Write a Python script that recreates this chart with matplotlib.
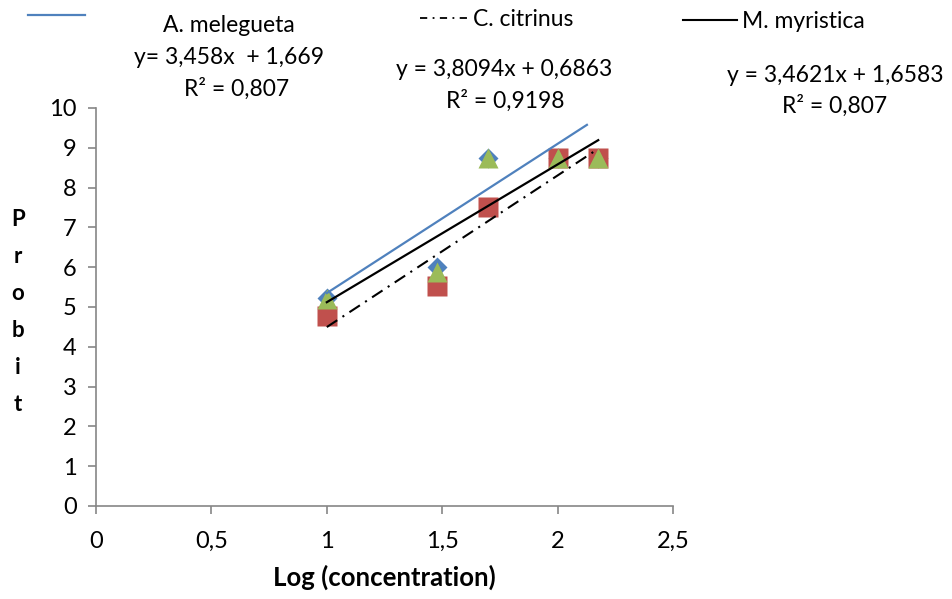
import matplotlib
matplotlib.use("Agg")
import matplotlib.pyplot as plt
from matplotlib.lines import Line2D
import numpy as np

plt.rcParams['font.family'] = ['Lato', 'DejaVu Sans']

# Data
log_conc = [1.0, 1.477, 1.699, 2.0, 2.176]
melegueta = [5.23, 6.00, 8.75, 8.75, 8.75]
citrinus = [4.77, 5.52, 7.52, 8.75, 8.75]
myristica = [5.20, 5.88, 8.75, 8.75, 8.75]

series_names = ["A. melegueta", "C. citrinus", "M. myristica"]
# trend lines: slope, intercept, x range as drawn
trend_slope = [3.75, 3.8094, 3.4621]
trend_intercept = [1.60, 0.6863, 1.6583]
trend_xmin = [1.0, 1.0, 1.0]
trend_xmax = [2.127, 2.176, 2.176]
eq_labels = ["y= 3,458x  + 1,669", "y = 3,8094x + 0,6863", "y = 3,4621x + 1,6583"]
r2_labels = ["R² = 0,807", "R² = 0,9198", "R² = 0,807"]

x_ticks = [0, 0.5, 1, 1.5, 2, 2.5]
x_ticklabels = ["0", "0,5", "1", "1,5", "2", "2,5"]
y_ticks = list(range(0, 11))

W, H = 952, 599
fig = plt.figure(figsize=(W / 100, H / 100), dpi=100)
ax = fig.add_axes([96 / W, 1 - 506 / H, (673 - 96) / W, (506 - 108) / H])

blue = "#4F81BD"
red = "#C0504D"
green = "#9BBB59"
ax.plot(log_conc, melegueta, linestyle='none', marker='D', ms=10.5, color=blue, mec='none', zorder=2, clip_on=False)
ax.plot(log_conc, citrinus, linestyle='none', marker='s', ms=14.8, color=red, mec='none', zorder=3, clip_on=False)
ax.plot(log_conc, myristica, linestyle='none', marker='^', ms=14.8, color=green, mec='none', zorder=4, clip_on=False)

styles = [dict(color=blue, lw=1.6, ls='-'),
          dict(color='black', lw=1.5, ls=(0, (6, 3, 1, 3))),
          dict(color='black', lw=1.6, ls='-')]
for i in range(3):
    xs = np.array([trend_xmin[i], trend_xmax[i]])
    ax.plot(xs, trend_slope[i] * xs + trend_intercept[i], zorder=6, **styles[i])

ax.set_xlim(0, 2.5)
ax.set_ylim(0, 10)
ax.set_xticks(x_ticks)
ax.set_xticklabels(x_ticklabels)
ax.set_yticks(y_ticks)
for s in ['top', 'right']:
    ax.spines[s].set_visible(False)
for s in ['left', 'bottom']:
    ax.spines[s].set_color('#868686')
    ax.spines[s].set_linewidth(1.2)
ax.tick_params(axis='both', colors='#868686', labelcolor='black', labelsize=17, length=6, width=1.2)
ax.tick_params(axis='x', pad=12)
ax.tick_params(axis='y', pad=8)

ax.set_xlabel("Log (concentration)", fontsize=18.5, fontweight='bold', labelpad=9)
fig.text(18 / W, 1 - 312 / H, "P\nr\no\nb\ni\nt", fontsize=16, fontweight='bold',
         ha='center', va='center', linespacing=1.95)

# legend (manual)
def fx(px):
    return px / W
def fy(py):
    return 1 - py / H

fs = 16.5
fig.add_artist(Line2D([fx(28), fx(85)], [fy(15), fy(15)], color=blue, lw=1.6))
fig.text(fx(163), fy(25), series_names[0], fontsize=fs, va='center', ha='left')
fig.add_artist(Line2D([fx(420), fx(467)], [fy(18), fy(18)], color='black', lw=1.3, ls=(0, (4, 3, 1, 3))))
fig.text(fx(473), fy(19), series_names[1], fontsize=fs, va='center', ha='left')
fig.add_artist(Line2D([fx(683), fx(737)], [fy(20), fy(20)], color='black', lw=1.5))
fig.text(fx(742), fy(21), series_names[2], fontsize=fs, va='center', ha='left')

eq_pos = [(229, 57, 237, 89), (504, 70, 505, 101), (835, 76, 835, 106)]
for i in range(3):
    ex, ey, rx, ry = eq_pos[i]
    fig.text(fx(ex), fy(ey), eq_labels[i], fontsize=fs, va='center', ha='center')
    fig.text(fx(rx), fy(ry), r2_labels[i], fontsize=fs, va='center', ha='center')

fig.savefig("out.png", dpi=100)
